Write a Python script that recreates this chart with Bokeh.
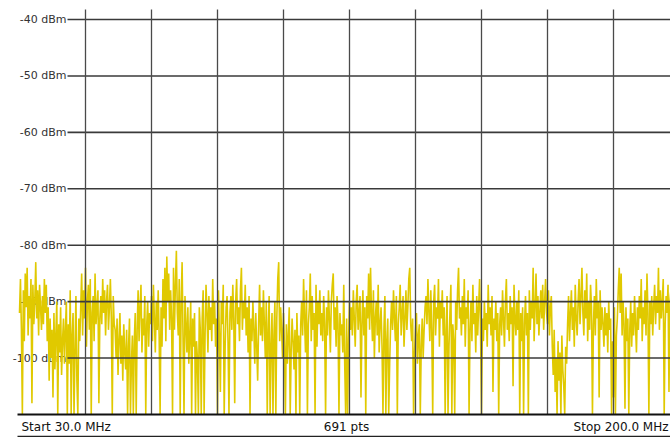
from bokeh.plotting import figure
from bokeh.models import Range1d, Label
from bokeh.embed import file_html
from bokeh.resources import INLINE
from bokeh.core.properties import value

# ---- data ----
start_mhz = 30.0
stop_mhz = 200.0
n_pts = 691
y_ticks = [-40, -50, -60, -70, -80, -90, -100]
y_tick_labels = ["-40 dBm", "-50 dBm", "-60 dBm", "-70 dBm", "-80 dBm", "-90 dBm", "-100 dBm"]
x_div_mhz = [47.0, 64.0, 81.0, 98.0, 115.0, 132.0, 149.0, 166.0, 183.0]
ref_bottom = -110
start_label = "Start 30.0 MHz"
mid_label = "691 pts"
stop_label = "Stop 200.0 MHz"

level_dbm = [
    -92,-86,-95,-110,-88,-97,-85,-91,-84,-96,-89,-93,-86,-108,-87,-94,-90,
    -83,-93,-88,-96,-87,-91,-95,-89,-94,-86,-92,
    -87,-97,-91,-104,-93,-100,-95,-107,-92,-102,-96,-90,-110,-94,-99,-91,-103,-97,-93,-101,-95,
    -90,-110,-94,-101,-88,-110,-96,-92,-110,-99,-89,-104,-110,-93,-97,
    -91,-85,-96,-88,-93,-84,-98,-90,-87,-95,-86,-110,-92,-89,-97,-85,-94,-91,-88,-108,-93,
    -89,-94,-86,-92,-88,-96,-90,-87,-95,-91,-86,-93,-110,-89,-94,
    -95,-100,-93,-103,-97,-92,-101,-96,-104,-94,-99,-102,-95,-110,-98,-93,-110,-101,-96,-110,-97,
    -92,-110,-95,-88,-97,-91,-87,-99,-93,-96,-89,-110,-94,-90,-98,-92,
    -94,-89,-97,-87,-93,-99,-90,-95,-88,-96,-110,-91,-98,-86,-93,-84,-97,-82,-90,-85,-95,
    -88,-93,-110,-84,-95,-87,-81,-92,-96,-86,-110,-90,-83,-97,-110,-89,
    -94,-99,-91,-101,-96,-90,-110,-93,-98,-92,-110,-97,-100,-110,-91,-95,
    -110,-93,-88,-110,-96,-87,-92,-99,-89,-95,-91,-97,-86,-94,-90,-98,
    -93,-110,-88,-96,-106,-90,-94,-87,-110,-98,-91,-89,-97,-110,-92,
    -89,-95,-87,-93,-108,-90,-86,-94,-91,-97,-88,-84,-95,-90,-93,-87,
    -96,-91,-99,-89,-110,-93,-97,-90,-95,-101,-92,-98,-104,-94,-87,-96,
    -91,-97,-88,-94,-100,-90,-110,-95,-89,-110,-98,-92,-110,-96,-90,-110,-93,-86,-83,-97,-91,
    -95,-100,-92,-98,-110,-94,-101,-96,-91,-110,-99,-93,-97,-102,-95,-110,-92,-99,-96,-110,-94,
    -90,-96,-86,-93,-99,-88,-110,-94,-91,-85,-97,-89,-95,-92,-110,-87,-98,-90,-94,-88,-96,
    -92,-97,-89,-94,-110,-91,-96,-88,-93,-99,-90,-87,-85,-95,-91,-98,-89,-94,-110,-92,-96,
    -94,-99,-87,-101,-110,-93,-110,-97,-90,-95,
    -91,-96,-88,-93,-98,-90,-87,-95,-92,-89,-107,-94,-88,-96,-91,-110,-89,-93,-85,-95,-84,
    -92,-97,-88,-100,-93,-90,-96,-87,-99,-94,-91,-98,-110,-95,-89,-110,-97,-93,-110,-101,-94,
    -90,-95,-88,-93,-97,-89,-110,-94,-91,-87,-96,-92,-89,-98,-93,-88,-95,-91,-86,-84,-94,
    -97,-93,-110,-99,-95,-92,-101,-96,-94,-110,-98,-93,-100,-95,-91,
    -89,-94,-86,-92,-97,-88,-95,-110,-90,-87,-96,-91,-93,-86,-98,-90,
    -93,-88,-96,-91,-110,-95,-89,-110,-98,-92,-87,-110,-94,-97,-110,-90,-95,-88,-84,-93,-91,
    -96,-89,-94,-86,-98,-91,-93,-88,-110,-95,-90,-97,-87,-94,-92,-99,-89,-96,-91,-86,-95,
    -110,-93,-97,-90,-95,-92,-98,-87,-94,-91,-96,-89,-106,-93,-95,-90,-97,-92,-110,-94,-91,
    -96,-88,-93,-98,-90,-86,-95,-92,-97,-89,-94,-91,-105,-87,-93,-96,-90,-95,-88,-110,-92,
    -97,-91,-110,-94,-89,-96,-92,-110,-88,-95,-90,-93,-84,-97,-91,-85,-94,-89,-96,-92,-88,
    -93,-87,-95,-90,-86,-92,-94,-88,-96,-91,-89,
    -98,-103,-95,-106,-100,-110,-97,-104,-99,-110,-96,-102,-105,-110,-98,-101,
    -94,-89,-97,-92,-88,-95,-91,-98,-87,-93,-96,-90,-86,-94,-89,-84,
    -92,-96,-88,-93,-85,-97,-90,-95,-87,-91,-110,-94,-89,-96,-86,-93,-90,-107,-88,-95,-91,
    -94,-98,-91,-96,-92,-99,-90,-95,-93,-110,-97,-107,-91,-110,-96,-93,
    -88,-84,-92,-85,-96,-90,-94,-109,-91,-97,-93,-110,-95,-90,-98,-92,-96,-89,-94,-99,-91,
    -95,-89,-93,-86,-97,-91,-94,-88,-96,-85,-92,-110,-90,-94,-89,-96,
    -91,-87,-94,-89,-92,-84,-95,-88,-93,-90,-86,-110,-94,-89,-92,-87,-106,-90,-88,-93,-91,-95,-89,-92,-94,-88,-91,-93,
]

# ---- geometry ----
W, H = 670, 437
px_per_mhz = 660.0 / (stop_mhz - start_mhz)
x_lo = start_mhz - 19.0 / px_per_mhz
x_hi = x_lo + W / px_per_mhz
px_per_db = 395.0 / 70.0
y_hi = -40 + 19.0 / px_per_db
y_lo = y_hi - H / px_per_db

npt = len(level_dbm)
freq = [start_mhz + i * (stop_mhz - start_mhz) / (npt - 1) for i in range(npt)]

p = figure(width=W, height=H, output_backend="svg", toolbar_location=None,
           x_range=Range1d(x_lo, x_hi), y_range=Range1d(y_lo, y_hi),
           x_axis_location=None, y_axis_location=None,
           min_border=0, min_border_left=0, min_border_right=0,
           min_border_top=0, min_border_bottom=0)
p.xgrid.visible = False
p.ygrid.visible = False
p.outline_line_color = None
p.background_fill_color = "white"
p.border_fill_color = "white"

FONT = "DejaVu Sans"

# y tick labels (under the trace)
lab_x = x_lo + 66.0 / px_per_mhz
p.text(x=[lab_x] * len(y_ticks), y=y_ticks, text=y_tick_labels,
       text_align="right", text_baseline="middle",
       text_font=value(FONT), text_font_size="11px", text_color="#333333")

# trace
p.line(freq, level_dbm, line_color="#E0C900", line_width=1.6)

# horizontal grid lines
hx0 = x_lo + 67.0 / px_per_mhz
p.segment(x0=[hx0] * len(y_ticks), y0=y_ticks, x1=[x_hi] * len(y_ticks), y1=y_ticks,
          line_color="#3a3a3a", line_width=1.6)

# vertical grid lines
v_top = -40 + 10.0 / px_per_db
p.segment(x0=x_div_mhz, y0=[v_top] * len(x_div_mhz), x1=x_div_mhz, y1=[ref_bottom] * len(x_div_mhz),
          line_color="#4a4a4a", line_width=1.3)

# bottom reference line and lower border
bx0 = x_lo + 17.0 / px_per_mhz
p.segment(x0=[bx0], y0=[ref_bottom], x1=[x_hi], y1=[ref_bottom], line_color="#111111", line_width=2)
y_low_line = -40 - 417.0 / px_per_db
p.segment(x0=[bx0], y0=[y_low_line], x1=[x_hi], y1=[y_low_line], line_color="#222222", line_width=1.5)

# bottom annotation texts
for txt, xs, align in [(start_label, 21, "left"), (mid_label, 346, "center"), (stop_label, 668, "right")]:
    p.add_layout(Label(x=xs, y=H - 426, x_units="screen", y_units="screen", text=txt,
                       text_align=align, text_baseline="middle",
                       text_font=FONT, text_font_size="12px", text_color="#111111"))

open("out.html", "w").write(file_html(p, INLINE))
